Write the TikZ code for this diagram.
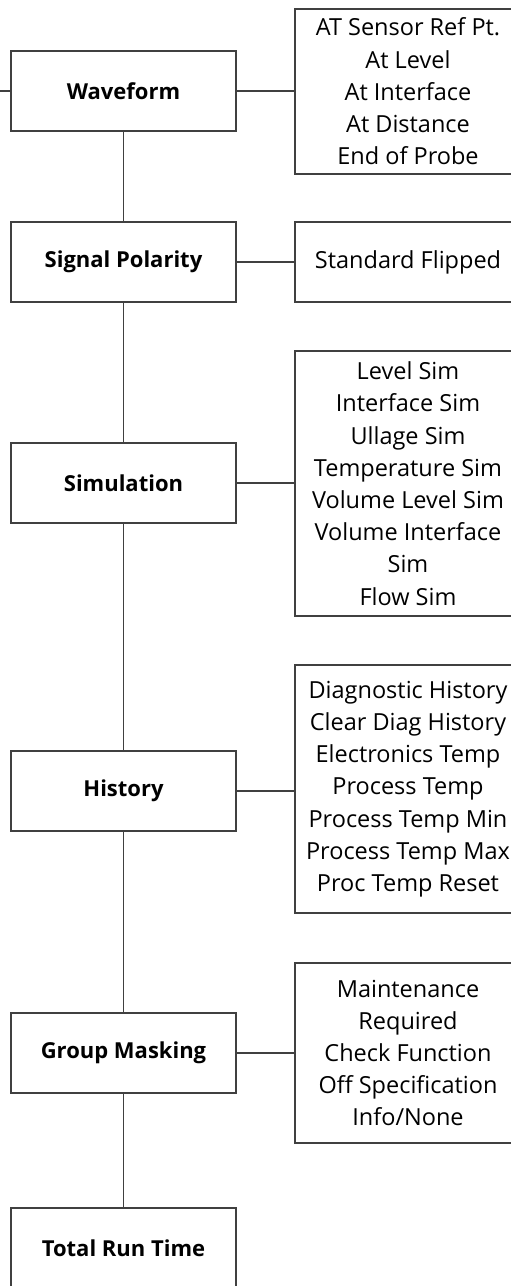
\documentclass[tikz,border=0pt]{standalone}
\usepackage{fontspec}
\setmainfont{Open Sans}
\begin{document}
\begin{tikzpicture}[x=1pt,y=-1pt,
  ln/.style={line width=1.1pt, draw=black!75},
  mainbox/.style={ln, rectangle, minimum width=225pt, minimum height=80pt, inner sep=0pt,
     font=\fontsize{22}{32}\selectfont\bfseries, text=black},
  optbox/.style={ln, rectangle, minimum width=226pt, inner sep=0pt, align=center,
     font=\fontsize{23.5}{32.2}\selectfont, text=black}]
\useasboundingbox (0,0) rectangle (511,1286);
% left column
\node[mainbox] (wave) at (123.5,91) {Waveform};
\node[mainbox] (pol)  at (123.5,262) {Signal Polarity};
\node[mainbox] (sim)  at (123.5,483) {Simulation};
\node[mainbox] (hist) at (123.5,791) {History};
\node[mainbox] (grp)  at (123.5,1053) {Group Masking};
\node[mainbox] (trt)  at (123.5,1248) {Total Run Time};
% right column
\node[optbox, minimum height=165pt] (o1) at (408,91.5) {AT Sensor Ref Pt.\\At Level\\At Interface\\At Distance\\End of Probe};
\node[optbox, minimum height=80pt] (o2) at (408,262) {Standard Flipped};
\node[optbox, minimum height=265pt] (o3) at (408,483.5) {Level Sim\\Interface Sim\\Ullage Sim\\Temperature Sim\\Volume Level Sim\\Volume Interface\\Sim\\Flow Sim};
\node[optbox, minimum height=248pt] (o4) at (408,789) {Diagnostic History\\Clear Diag History\\Electronics Temp\\Process Temp\\Process Temp Min\\Process Temp Max\\Proc Temp Reset};
\node[optbox, minimum height=180pt] (o5) at (408,1053) {Maintenance\\Required\\Check Function\\Off Specification\\Info/None};
% connectors
\coordinate (stub) at (0,91);
\draw[ln] (stub) -- (wave.west);
\draw[ln] (wave.south) -- (pol.north);
\draw[ln] (pol.south) -- (sim.north);
\draw[ln] (sim.south) -- (hist.north);
\draw[ln] (hist.south) -- (grp.north);
\draw[ln] (grp.south) -- (trt.north);
\draw[ln] (wave.east) -- (wave.east -| o1.west);
\draw[ln] (pol.east) -- (pol.east -| o2.west);
\draw[ln] (sim.east) -- (sim.east -| o3.west);
\draw[ln] (hist.east) -- (hist.east -| o4.west);
\draw[ln] (grp.east) -- (grp.east -| o5.west);
\end{tikzpicture}
\end{document}
